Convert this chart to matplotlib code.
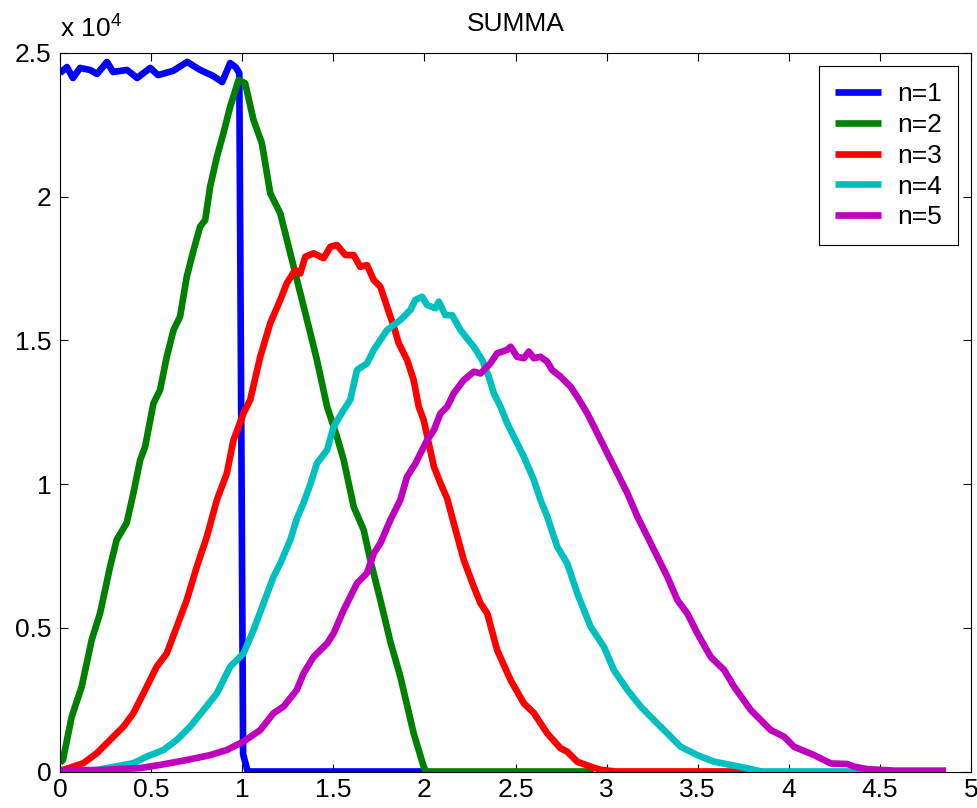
import matplotlib
matplotlib.use("Agg")
import matplotlib.pyplot as plt
from matplotlib.ticker import FuncFormatter, MultipleLocator

plt.rcParams['font.family'] = ['Liberation Sans', 'DejaVu Sans']
plt.rcParams['mathtext.fontset'] = 'custom'
plt.rcParams['mathtext.rm'] = 'Liberation Sans'

# n=1
x1 = [0.0, 0.038, 0.071, 0.11, 0.165, 0.203, 0.258, 0.291, 0.368, 0.423, 0.495, 0.538,
      0.621, 0.698, 0.769, 0.841, 0.89, 0.934, 0.965, 0.984, 1.005, 1.03, 1.5, 2.0]
y1 = [24300, 24510, 24130, 24480, 24410, 24270, 24690, 24340, 24410, 24130, 24480, 24230,
      24380, 24690, 24410, 24200, 23990, 24650, 24500, 24300, 600, 0, 0, 0]

# n=2
x2 = [0.0, 0.016, 0.064, 0.119, 0.174, 0.22, 0.275, 0.311, 0.366, 0.403, 0.44, 0.467,
      0.513, 0.549, 0.586, 0.623, 0.659, 0.696, 0.733, 0.769, 0.797, 0.824, 0.861, 0.897,
      0.934, 0.98, 1.016, 1.062, 1.108, 1.154, 1.209, 1.264, 1.319, 1.374, 1.41, 1.466,
      1.52, 1.557, 1.612, 1.667, 1.703, 1.758, 1.813, 1.868, 1.941, 1.996, 2.01, 2.5, 2.93]
y2 = [300, 400, 1900, 2950, 4580, 5510, 7130, 8060, 8650, 9690, 10840, 11300,
      12810, 13270, 14430, 15360, 15830, 17220, 18140, 18960, 19190, 20350, 21390, 22210,
      23130, 24060, 23950, 22670, 21860, 20120, 19420, 18030, 16640, 15250, 14320, 12690,
      11650, 10840, 9210, 8400, 7360, 5970, 4520, 3300, 1330, 170, 0, 0, 0]

# n=3
x3 = [0.0, 0.016, 0.128, 0.201, 0.275, 0.348, 0.403, 0.458, 0.531, 0.586, 0.641, 0.696,
      0.751, 0.806, 0.861, 0.916, 0.952, 1.007, 1.044, 1.099, 1.154, 1.209, 1.245, 1.291,
      1.319, 1.346, 1.392, 1.447, 1.484, 1.52, 1.566, 1.612, 1.648, 1.685, 1.722, 1.758,
      1.795, 1.832, 1.859, 1.905, 1.941, 1.969, 1.996, 2.024, 2.052, 2.088, 2.125, 2.161,
      2.216, 2.271, 2.308, 2.345, 2.399, 2.473, 2.546, 2.601, 2.674, 2.747, 2.784, 2.839,
      2.912, 2.967, 3.05, 3.3, 3.77]
y3 = [0, 50, 290, 630, 1100, 1560, 2030, 2720, 3650, 4110, 5040, 5970,
      7130, 8170, 9450, 10380, 11530, 12460, 12930, 14430, 15600, 16410, 16990, 17450,
      17330, 17910, 18030, 17860, 18260, 18320, 17970, 17970, 17560, 17620, 17100, 16870,
      16170, 15480, 14900, 14320, 13620, 12690, 12230, 11420, 10610, 10030, 9500, 8640,
      7360, 6430, 5850, 5500, 4230, 3180, 2370, 2030, 1330, 810, 690, 340,
      170, 60, 0, 0, 0]

# n=4
x4 = [0.0, 0.2, 0.403, 0.476, 0.568, 0.641, 0.714, 0.788, 0.861, 0.934, 1.007, 1.062,
      1.117, 1.172, 1.209, 1.264, 1.3, 1.337, 1.374, 1.41, 1.466, 1.502, 1.557, 1.593,
      1.63, 1.685, 1.722, 1.795, 1.868, 1.923, 1.951, 1.987, 2.015, 2.061, 2.079, 2.115,
      2.152, 2.198, 2.234, 2.271, 2.317, 2.353, 2.381, 2.418, 2.454, 2.491, 2.546, 2.601,
      2.637, 2.674, 2.729, 2.784, 2.839, 2.912, 2.985, 3.04, 3.114, 3.187, 3.26, 3.333,
      3.407, 3.498, 3.59, 3.681, 3.773, 3.85, 4.2, 4.55]
y4 = [0, 50, 290, 520, 750, 1100, 1560, 2140, 2720, 3650, 4110, 4920,
      5850, 6780, 7240, 8060, 8800, 9350, 10000, 10720, 11190, 12000, 12580, 12930,
      13970, 14200, 14670, 15360, 15710, 16060, 16410, 16520, 16230, 16120, 16350, 15880,
      15880, 15360, 15070, 14780, 14320, 13740, 13160, 12690, 12120, 11650, 10950, 10140,
      9450, 8870, 7820, 7240, 6200, 5040, 4340, 3530, 2840, 2260, 1790, 1330,
      860, 570, 340, 230, 110, 0, 0, 0]

# n=5
x5 = [0.0, 0.22, 0.44, 0.55, 0.696, 0.824, 0.916, 1.007, 1.099, 1.172, 1.227, 1.3,
      1.337, 1.392, 1.466, 1.502, 1.557, 1.63, 1.685, 1.722, 1.758, 1.813, 1.868, 1.905,
      1.951, 2.015, 2.052, 2.088, 2.125, 2.161, 2.216, 2.271, 2.308, 2.362, 2.399, 2.454,
      2.473, 2.509, 2.546, 2.573, 2.601, 2.637, 2.674, 2.701, 2.747, 2.802, 2.839, 2.894,
      2.949, 3.004, 3.059, 3.114, 3.169, 3.224, 3.279, 3.333, 3.388, 3.443, 3.498, 3.571,
      3.645, 3.7, 3.791, 3.901, 3.974, 4.029, 4.139, 4.231, 4.322, 4.359, 4.432, 4.579,
      4.863]
y5 = [50, 50, 120, 230, 400, 570, 750, 1040, 1440, 2030, 2260, 2840,
      3420, 3990, 4460, 4810, 5620, 6550, 6900, 7590, 7940, 8750, 9450, 10260,
      10720, 11530, 11880, 12460, 12690, 13160, 13620, 13910, 13850, 14200, 14550, 14670,
      14780, 14430, 14380, 14610, 14380, 14430, 14260, 13970, 13740, 13390, 13040, 12460,
      11770, 11070, 10380, 9680, 8870, 8170, 7470, 6780, 5970, 5500, 4810, 3990,
      3530, 2950, 2140, 1440, 1210, 860, 570, 280, 260, 170, 80, 30,
      30]

labels = ['n=1', 'n=2', 'n=3', 'n=4', 'n=5']
colors = ['#0000ff', '#008000', '#ff0000', '#00bfbf', '#bf00bf']

FS = 19

fig = plt.figure(figsize=(9.78, 8.08), dpi=100)
ax = fig.add_axes([60/978, 36.5/808, 911/978, 718.5/808])

for xs, ys, lab, c in zip([x1, x2, x3, x4, x5], [y1, y2, y3, y4, y5], labels, colors):
    ax.plot(xs, ys, color=c, lw=4.8, label=lab, solid_joinstyle='round', solid_capstyle='butt')

ax.set_xlim(0, 5)
ax.set_ylim(0, 25000)
ax.xaxis.set_major_locator(MultipleLocator(0.5))
ax.yaxis.set_major_locator(MultipleLocator(5000))
ax.xaxis.set_major_formatter(FuncFormatter(lambda v, p: ('%g' % v)))
ax.yaxis.set_major_formatter(FuncFormatter(lambda v, p: ('%g' % (v / 1e4))))
ax.tick_params(direction='in', top=True, right=True, length=6, width=0.8,
               labelsize=FS)
ax.tick_params(axis='x', pad=5)
ax.tick_params(axis='y', pad=6)
for s in ax.spines.values():
    s.set_linewidth(0.8)

ax.set_title('SUMMA', fontsize=FS, pad=16)
ax.text(0.0, 1.016, r'x 10$^{\mathregular{4}}$', transform=ax.transAxes,
        fontsize=FS, ha='left', va='bottom')

leg = ax.legend(loc='upper right', fontsize=FS, frameon=True, fancybox=False,
                edgecolor='black', framealpha=1, handlelength=1.75, borderpad=0.6,
                labelspacing=0.26, borderaxespad=0.5, handletextpad=0.6)
leg.get_frame().set_linewidth(0.8)

fig.savefig('out.png', dpi=100)
